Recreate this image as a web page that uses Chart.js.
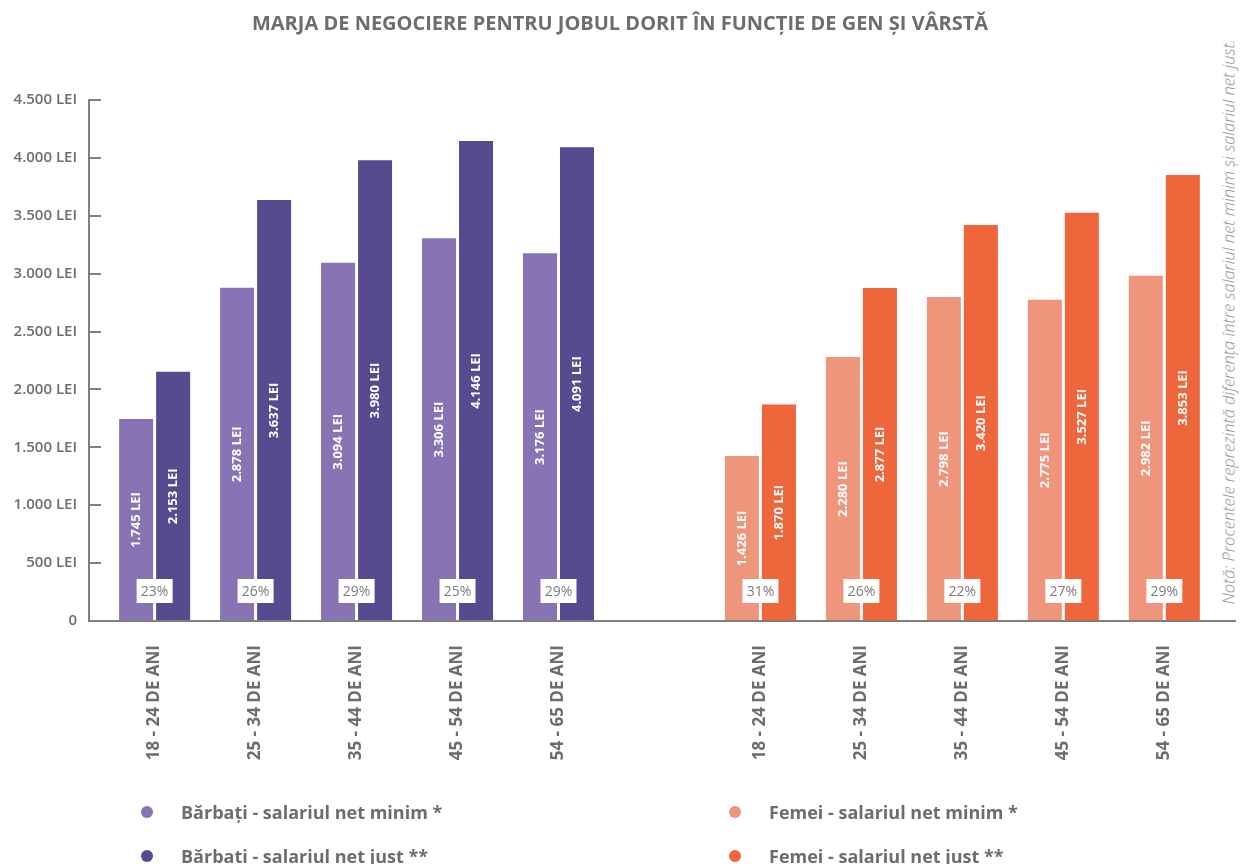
<!DOCTYPE html>
<html>
<head>
<meta charset="utf-8">
<script src="https://cdn.jsdelivr.net/npm/chart.js@4.4.1/dist/chart.umd.min.js"></script>
<style>
  body { margin: 0; background: #fff; font-family: "Open Sans", sans-serif; }
  #wrap { position: relative; width: 1240px; height: 864px; overflow: hidden; }
  #chart { position: absolute; left: 0; top: 0; }
  #title {
    position: absolute; top: 9px; left: 0; width: 1240px;
    text-align: center; font-weight: 700; font-size: 20px; color: #6d6d6d;
  }
  #note {
    position: absolute; left: 1228px; top: 322px; width: 700px;
    transform: translate(-50%, -50%) rotate(-90deg);
    text-align: center; font-style: italic; font-weight: 300; font-size: 16.5px;
    color: #888; white-space: nowrap;
  }
  .legend { position: absolute; font-weight: 700; font-size: 18px; color: #6d6d6d; }
  .legend .item { position: relative; height: 44px; line-height: 22px; padding-left: 40px; white-space: nowrap; }
  .legend .dot {
    position: absolute; left: 0; top: 5px; width: 12px; height: 12px; border-radius: 50%;
  }
</style>
</head>
<body>
<div id="wrap">
  <canvas id="chart" width="1240" height="864"></canvas>
  <div id="title">MARJA DE NEGOCIERE PENTRU JOBUL DORIT ÎN FUNCȚIE DE GEN ȘI VÂRSTĂ</div>
  <div id="note">Notă: Procentele reprezintă diferența între salariul net minim și salariul net just.</div>
  <div class="legend" id="legendMen" style="left:141px; top:801px;"></div>
  <div class="legend" id="legendWomen" style="left:729px; top:801px;"></div>
</div>
<script>
const ageGroups = ["18 - 24 DE ANI", "25 - 34 DE ANI", "35 - 44 DE ANI", "45 - 54 DE ANI", "54 - 65 DE ANI"];

const menMin = [1745, 2878, 3094, 3306, 3176];
const menJust = [2153, 3637, 3980, 4146, 4091];
const womenMin = [1426, 2280, 2798, 2775, 2982];
const womenJust = [1870, 2877, 3420, 3527, 3853];

const menPct = [23, 26, 29, 25, 29];
const womenPct = [31, 26, 22, 27, 29];

const yTicks = [0, 500, 1000, 1500, 2000, 2500, 3000, 3500, 4000, 4500];

const seriesNames = [
  "Bărbați - salariul net minim *",
  "Bărbați - salariul net just **",
  "Femei - salariul net minim *",
  "Femei - salariul net just **"
];
const colors = ["#8874b4", "#574a8e", "#ef957b", "#ef663c"];
const axisColor = "#7f7f7f";
const textColor = "#6d6d6d";

// women sit after the men, with one empty slot between the groups
const womenStart = ageGroups.length + 1;
const toPoints = (arr, start) => arr.map((v, i) => ({ x: start + i, y: v }));

function fmt(v) {
  return String(v).replace(/\B(?=(\d{3})+(?!\d))/g, ".");
}

function slotLabel(v) {
  const i = v < womenStart ? v : v - womenStart;
  return ageGroups[i] || "";
}

// legend in html, two columns
function buildLegend(id, from) {
  const box = document.getElementById(id);
  for (let k = from; k < from + 2; k++) {
    const div = document.createElement("div");
    div.className = "item";
    div.innerHTML = `<span class="dot" style="background:${colors[k]}"></span>${seriesNames[k]}`;
    box.appendChild(div);
  }
}
buildLegend("legendMen", 0);
buildLegend("legendWomen", 2);

const barLabels = {
  id: "barLabels",
  afterDatasetsDraw(chart) {
    const ctx = chart.ctx;
    const base = chart.scales.y.getPixelForValue(0);

    // values inside the bars
    chart.data.datasets.forEach((ds, di) => {
      chart.getDatasetMeta(di).data.forEach((bar, i) => {
        ctx.save();
        ctx.translate(bar.x, (bar.y + base) / 2);
        ctx.rotate(-Math.PI / 2);
        ctx.fillStyle = "#fff";
        ctx.font = '700 13px "Open Sans"';
        ctx.textAlign = "center";
        ctx.textBaseline = "middle";
        ctx.fillText(fmt(ds.data[i].y) + " LEI", 0, 0);
        ctx.restore();
      });
    });

    // percentage boxes between each pair
    const pairs = [[0, 1, menPct], [2, 3, womenPct]];
    pairs.forEach(([a, b, pct]) => {
      const ma = chart.getDatasetMeta(a).data;
      const mb = chart.getDatasetMeta(b).data;
      pct.forEach((p, i) => {
        const cx = (ma[i].x + mb[i].x) / 2;
        const cy = base - 30;
        ctx.save();
        ctx.fillStyle = "#fff";
        ctx.fillRect(cx - 18, cy - 12, 36, 24);
        ctx.fillStyle = "#7b7b7b";
        ctx.font = '400 14px "Open Sans"';
        ctx.textAlign = "center";
        ctx.textBaseline = "middle";
        ctx.fillText(p + "%", cx, cy + 1);
        ctx.restore();
      });
    });
  }
};

new Chart(document.getElementById("chart"), {
  type: "bar",
  data: {
    datasets: [
      { label: seriesNames[0], data: toPoints(menMin, 0), backgroundColor: colors[0], stack: "min" },
      { label: seriesNames[1], data: toPoints(menJust, 0), backgroundColor: colors[1], stack: "just" },
      { label: seriesNames[2], data: toPoints(womenMin, womenStart), backgroundColor: colors[2], stack: "min" },
      { label: seriesNames[3], data: toPoints(womenJust, womenStart), backgroundColor: colors[3], stack: "just" }
    ]
  },
  options: {
    responsive: false,
    animation: false,
    categoryPercentage: 0.733,
    barPercentage: 0.919,
    layout: { padding: { top: 100, right: 5, left: 0, bottom: 0 } },
    plugins: {
      legend: { display: false },
      tooltip: { enabled: false }
    },
    scales: {
      x: {
        type: "linear",
        offset: false,
        min: -0.65,
        max: 10.7,
        afterFit(s) {
          s.height = 243;
          s.paddingLeft = 0;
          s.paddingRight = 0;
        },
        afterBuildTicks(s) {
          const slots = [];
          ageGroups.forEach((g, i) => slots.push(i));
          ageGroups.forEach((g, i) => slots.push(womenStart + i));
          s.ticks = slots.map(v => ({ value: v }));
        },
        border: { color: axisColor, width: 2 },
        grid: { drawOnChartArea: false, drawTicks: false, offset: false },
        ticks: {
          autoSkip: false,
          minRotation: 90,
          maxRotation: 90,
          padding: 24,
          color: textColor,
          font: { family: "Open Sans", weight: "700", size: 17 },
          callback: v => slotLabel(v)
        }
      },
      y: {
        min: 0,
        max: 4500,
        afterFit(s) { s.width = 89; },
        afterBuildTicks(s) { s.ticks = yTicks.map(v => ({ value: v })); },
        border: { color: axisColor, width: 2 },
        grid: { drawOnChartArea: false, drawTicks: true, tickLength: -12, color: axisColor, lineWidth: 2 },
        ticks: {
          padding: 24,
          color: textColor,
          font: { family: "Open Sans", weight: "600", size: 15 },
          callback: v => v === 0 ? "0" : fmt(v) + " LEI"
        }
      }
    }
  },
  plugins: [barLabels]
});
</script>
</body>
</html>
